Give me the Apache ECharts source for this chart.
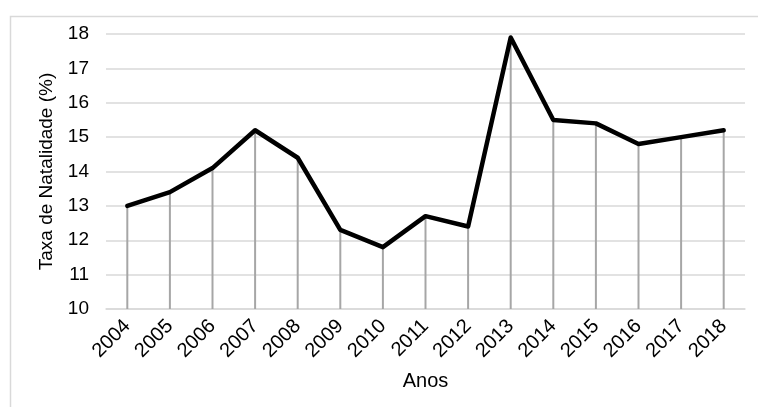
<!DOCTYPE html>
<html>
<head>
<meta charset="utf-8">
<script src="https://cdn.jsdelivr.net/npm/echarts@6/dist/echarts.min.js"></script>
<style>
  html, body { margin: 0; padding: 0; background: #fff; }
  #chart { width: 758px; height: 407px; }
</style>
</head>
<body>
<div id="chart"></div>
<script>
// anos e taxa de natalidade (%)
const anos = ['2004', '2005', '2006', '2007', '2008', '2009', '2010', '2011',
  '2012', '2013', '2014', '2015', '2016', '2017', '2018'];
const taxa = [13.0, 13.4, 14.1, 15.2, 14.4, 12.3, 11.8, 12.7,
  12.4, 17.9, 15.5, 15.4, 14.8, 15.0, 15.2];

const fonte = 'Liberation Sans, Arial, sans-serif';

const chart = echarts.init(document.getElementById('chart'));

const options = {
  animation: false,
  backgroundColor: '#fff',
  graphic: [{
    type: 'rect',
    left: 8, top: 14,
    shape: { width: 800, height: 500 },
    style: { fill: 'none', stroke: '#d9d9d9', lineWidth: 1.5 },
    silent: true
  }],
  grid: { left: 106, right: 13, top: 34, bottom: 98 },
  xAxis: {
    type: 'category',
    data: anos,
    name: 'Anos',
    nameLocation: 'middle',
    nameGap: 62,
    nameTextStyle: { fontFamily: fonte, fontSize: 20, color: '#000' },
    axisLine: { lineStyle: { color: '#d9d9d9', width: 1.5 } },
    axisTick: { show: false },
    axisLabel: {
      rotate: 45, margin: 14, interval: 0,
      fontFamily: fonte, fontSize: 20, color: '#000'
    }
  },
  yAxis: {
    type: 'value',
    min: 10, max: 18, interval: 1,
    name: 'Taxa de Natalidade (%)',
    nameLocation: 'middle',
    nameGap: 50,
    nameTextStyle: { fontFamily: fonte, fontSize: 19, color: '#000' },
    axisLine: { show: false },
    axisTick: { show: false },
    axisLabel: { margin: 17, fontFamily: fonte, fontSize: 19, color: '#000' },
    splitLine: { lineStyle: { color: '#d9d9d9', width: 1.5 } }
  },
  series: [
    {
      // linhas de projeção
      type: 'bar',
      data: taxa,
      barWidth: 2,
      itemStyle: { color: '#a6a6a6' },
      silent: true,
      z: 1
    },
    {
      type: 'line',
      data: taxa,
      symbol: 'none',
      lineStyle: { color: '#000', width: 4.5, join: 'round', cap: 'round' },
      z: 3
    }
  ]
};

chart.setOption(options);
</script>
</body>
</html>
